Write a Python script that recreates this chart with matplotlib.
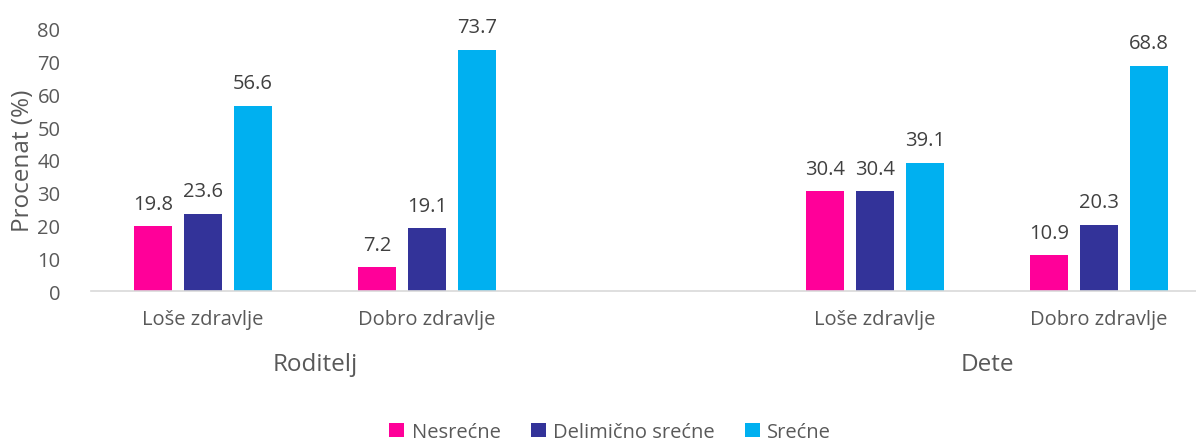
import matplotlib.pyplot as plt
import numpy as np

plt.rcParams['font.family'] = ['Open Sans', 'DejaVu Sans']

# podaci
kategorije = ["Loše zdravlje", "Dobro zdravlje", "Loše zdravlje", "Dobro zdravlje"]
grupe = ["Roditelj", "Dete"]
serije = ["Nesrećne", "Delimično srećne", "Srećne"]
nesrecne = [19.8, 7.2, 30.4, 10.9]
delimicno = [23.6, 19.1, 30.4, 20.3]
srecne = [56.6, 73.7, 39.1, 68.8]
boje = ["#FF0099", "#333399", "#00B0F0"]

siva = "#595959"
pozicije = np.array([0, 1, 3, 4])
sirina = 0.17
pomak = 0.223

fig = plt.figure(figsize=(11.96, 4.39), dpi=100)
ax = fig.add_axes([91 / 1196, 1 - 292 / 439, 1105 / 1196, 262 / 439])

for i, (vrednosti, boja) in enumerate(zip([nesrecne, delimicno, srecne], boje)):
    x = pozicije + (i - 1) * pomak
    bars = ax.bar(x, vrednosti, sirina, color=boja, label=serije[i])
    for b, v in zip(bars, vrednosti):
        ax.annotate(f"{v:.1f}", (b.get_x() + b.get_width() / 2, v),
                    xytext=(0, 9), textcoords="offset points",
                    ha="center", va="bottom", fontsize=14.5, color="#404040")

ax.set_xlim(-0.5, 4.433)
ax.set_ylim(0, 80)
ax.set_yticks(range(0, 81, 10))
ax.set_xticks(pozicije)
ax.set_xticklabels(kategorije)
ax.tick_params(axis="both", length=0, labelsize=14.5, colors=siva)
ax.tick_params(axis="x", pad=13)
ax.tick_params(axis="y", pad=22)
for s in ["top", "right", "left"]:
    ax.spines[s].set_visible(False)
ax.spines["bottom"].set_color("#D9D9D9")
ax.spines["bottom"].set_linewidth(1.2)

ax.set_ylabel("Procenat (%)", fontsize=17.5, color=siva, labelpad=2)

trans = ax.get_xaxis_transform()
ax.text(0.5, -0.28, grupe[0], transform=trans, ha="center", va="center", fontsize=17.5, color=siva)
ax.text(3.5, -0.28, grupe[1], transform=trans, ha="center", va="center", fontsize=17.5, color=siva)

fig.legend(loc="center", bbox_to_anchor=(610 / 1196, 1 - 433 / 439), ncol=3,
           frameon=False, fontsize=14.5, handlelength=0.75, handleheight=0.75,
           columnspacing=1.5, handletextpad=0.35, labelcolor=siva)

fig.savefig("out.png", dpi=100)
